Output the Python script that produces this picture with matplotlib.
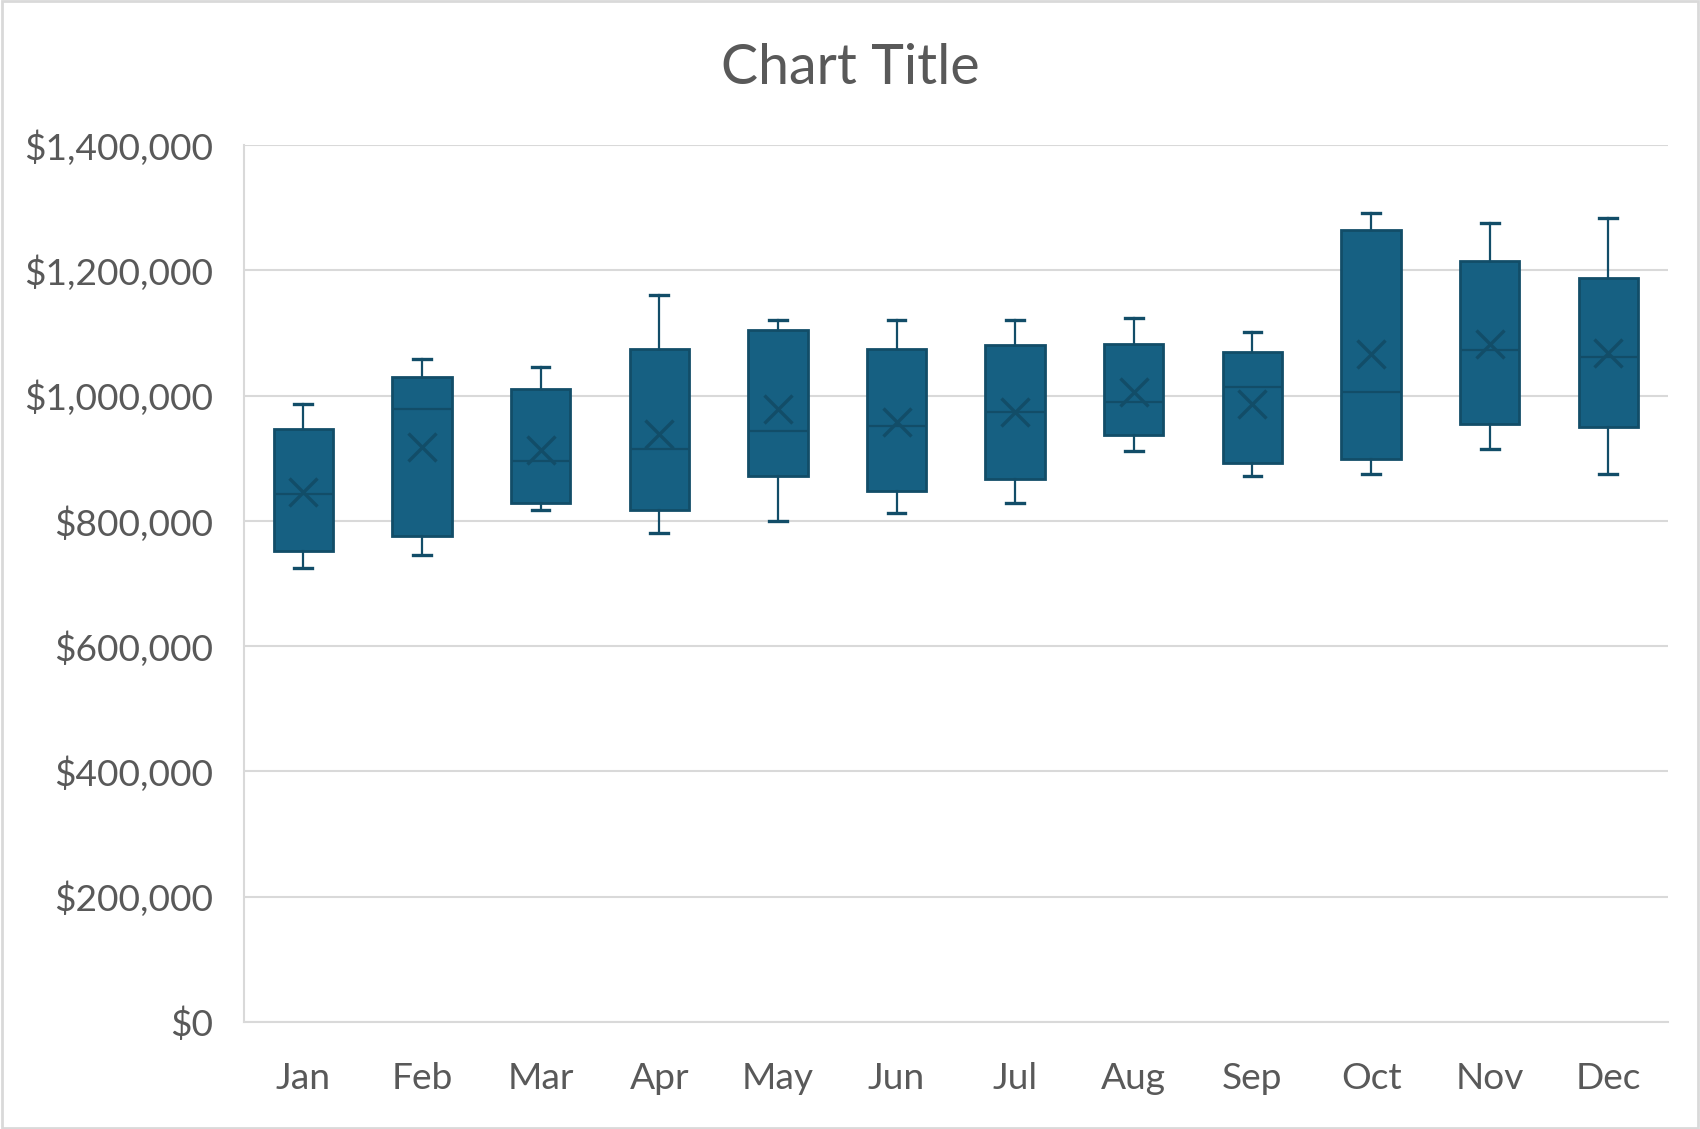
import matplotlib.pyplot as plt
from matplotlib.ticker import FuncFormatter

months = ['Jan', 'Feb', 'Mar', 'Apr', 'May', 'Jun', 'Jul', 'Aug', 'Sep', 'Oct', 'Nov', 'Dec']
whis_lo = [724000, 746000, 818000, 781000, 800000, 813000, 829000, 912000, 871000, 874000, 914000, 874000]
q1 = [752000, 776000, 828000, 817000, 872000, 847000, 867000, 937000, 892000, 899000, 955000, 950000]
median = [843000, 979000, 895000, 915000, 944000, 951000, 974000, 990000, 1013000, 1005000, 1072000, 1061000]
q3 = [946000, 1030000, 1010000, 1075000, 1105000, 1075000, 1081000, 1083000, 1069000, 1265000, 1215000, 1188000]
whis_hi = [986000, 1059000, 1045000, 1160000, 1120000, 1121000, 1120000, 1124000, 1101000, 1292000, 1276000, 1284000]
means = [846000, 918000, 913000, 939000, 979000, 958000, 974000, 1006000, 986000, 1067000, 1082000, 1068000]

fill = '#166082'
edge = '#124D68'
grid = '#D9D9D9'
text = '#595959'

plt.rcParams['font.family'] = ['Lato', 'DejaVu Sans']

fig = plt.figure(figsize=(17, 11.29), dpi=100)
ax = fig.add_axes([0.1435, 0.0948, 0.8375, 0.7768])

stats = []
for i, m in enumerate(months):
    stats.append({'label': m, 'whislo': whis_lo[i], 'q1': q1[i], 'med': median[i],
                  'q3': q3[i], 'whishi': whis_hi[i], 'mean': means[i], 'fliers': []})

ax.bxp(stats, positions=range(len(months)), widths=0.5, patch_artist=True,
       showmeans=True, showfliers=False,
       boxprops=dict(facecolor=fill, edgecolor=edge, linewidth=2.0),
       medianprops=dict(color=edge, linewidth=1.6),
       whiskerprops=dict(color=edge, linewidth=1.6),
       capprops=dict(color=edge, linewidth=2.4),
       capwidths=0.15,
       meanprops=dict(marker='x', markersize=20, markeredgecolor=edge, markeredgewidth=2.4))

ax.set_xlim(-0.5, len(months) - 0.5)
ax.set_ylim(0, 1400000)
ax.set_yticks(range(0, 1400001, 200000))
ax.yaxis.set_major_formatter(FuncFormatter(lambda v, p: '${:,.0f}'.format(v)))
ax.grid(axis='y', color=grid, linewidth=1.5)
ax.set_axisbelow(True)
for s in ['top', 'right']:
    ax.spines[s].set_visible(False)
for s in ['left', 'bottom']:
    ax.spines[s].set_color(grid)
    ax.spines[s].set_linewidth(1.5)
ax.tick_params(length=0, labelsize=26.7, labelcolor=text)
ax.tick_params(axis='y', pad=22)
ax.tick_params(axis='x', pad=29)

fig.text(0.5, 0.939, 'Chart Title', ha='center', va='center', fontsize=40, color=text)

border = plt.Rectangle((0.001, 0.001), 0.998, 0.998, transform=fig.transFigure,
                       fill=False, edgecolor=grid, linewidth=2)
fig.patches.append(border)

plt.savefig('out.png', dpi=100)
